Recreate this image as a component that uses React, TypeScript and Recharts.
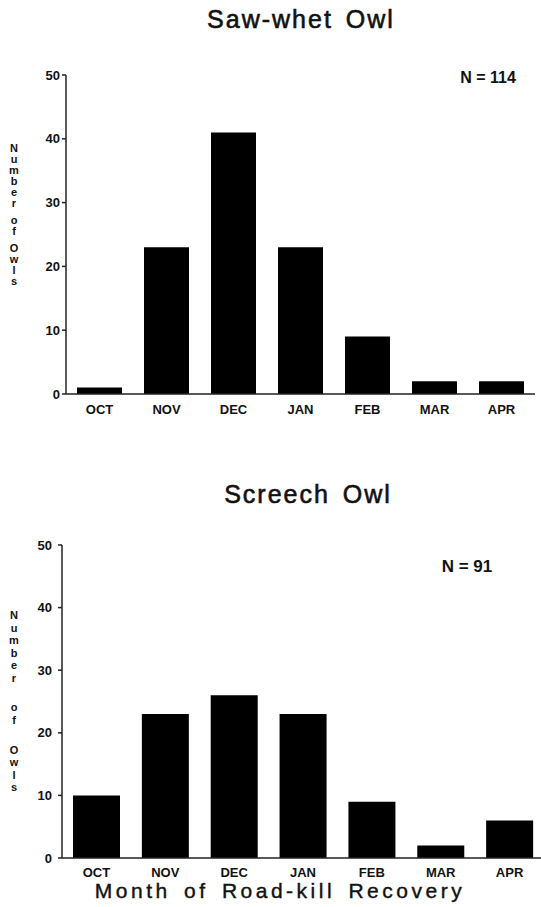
import { BarChart, Bar, XAxis, YAxis } from "recharts";

// Owl road-kill recoveries by month (two panels, same axes)
const meses = ["OCT", "NOV", "DEC", "JAN", "FEB", "MAR", "APR"];
const sawWhet = [1, 23, 41, 23, 9, 2, 2];
const screech = [10, 23, 26, 23, 9, 2, 6];
const yTicks = [0, 10, 20, 30, 40, 50];
const yLabelWords = ["Number", "of", "Owls"];

const FONT = "'Liberation Sans', Arial, Helvetica, sans-serif";
const INK = "#111";

const dadosSaw = meses.map((m, i) => ({ mes: m, n: sawWhet[i] }));
const dadosScreech = meses.map((m, i) => ({ mes: m, n: screech[i] }));

// letras empilhadas do rótulo vertical "Number of Owls"
function RotuloVertical({ x, y, passo, gap, fs }: { x: number; y: number; passo: number; gap: number; fs: number }) {
  const letras: { c: string; y: number }[] = [];
  let cur = y;
  yLabelWords.forEach((w, wi) => {
    if (wi > 0) cur += gap - passo;
    w.split("").forEach((c) => {
      letras.push({ c, y: cur });
      cur += passo;
    });
  });
  return (
    <>
      {letras.map((l, i) => (
        <text key={i} x={x} y={l.y} textAnchor="middle" dominantBaseline="central"
          fontSize={fs} fontWeight={700} fill={INK} fontFamily={FONT}>{l.c}</text>
      ))}
    </>
  );
}

function Painel({ dados, width, height, margin, xHeight, barSize, xTickMargin, yTickMargin }: {
  dados: { mes: string; n: number }[]; width: number; height: number;
  margin: { top: number; right: number; left: number; bottom: number };
  xHeight: number; barSize: number; xTickMargin: number; yTickMargin: number;
}) {
  return (
    <BarChart width={width} height={height} data={dados} margin={margin}>
      <XAxis dataKey="mes" height={xHeight}
        tick={{ fontSize: 13, fontWeight: 700, fill: INK, fontFamily: FONT }}
        tickLine={false} tickSize={0} tickMargin={xTickMargin}
        axisLine={{ stroke: "#222", strokeWidth: 1.5 }} interval={0} />
      <YAxis domain={[0, 50]} ticks={yTicks} width={50} interval={0}
        tick={{ fontSize: 13, fontWeight: 700, fill: INK, fontFamily: FONT }}
        tickSize={4} tickMargin={yTickMargin}
        tickLine={{ stroke: "#222", strokeWidth: 1.5 }}
        axisLine={{ stroke: "#222", strokeWidth: 1.5 }} />
      <Bar dataKey="n" fill="#000" barSize={barSize} isAnimationActive={false} />
    </BarChart>
  );
}

export default function App() {
  return (
    <div style={{ position: "absolute", left: 0, top: 0, width: 541, height: 907, overflow: "hidden", background: "#fff", fontFamily: FONT }}>
      <div style={{ position: "absolute", left: 0, top: 0 }}>
        <Painel dados={dadosSaw} width={541} height={430} xHeight={36}
          margin={{ top: 75, right: 6, left: 16, bottom: 0 }}
          barSize={45} xTickMargin={11} yTickMargin={2} />
      </div>
      <div style={{ position: "absolute", left: 0, top: 430 }}>
        <Painel dados={dadosScreech} width={548} height={477} xHeight={49}
          margin={{ top: 115, right: 4, left: 12, bottom: 0 }}
          barSize={47} xTickMargin={10} yTickMargin={6} />
      </div>
      <svg width={541} height={907} style={{ position: "absolute", left: 0, top: 0, pointerEvents: "none" }}>
        <text x={301} y={28} textAnchor="middle" fontSize={25} letterSpacing={2} wordSpacing={4} fill={INK} stroke={INK} strokeWidth={0.6} fontFamily={FONT}>Saw-whet Owl</text>
        <text x={308} y={503} textAnchor="middle" fontSize={25} letterSpacing={2} wordSpacing={4} fill={INK} stroke={INK} strokeWidth={0.6} fontFamily={FONT}>Screech Owl</text>
        <text x={488} y={83} textAnchor="middle" fontSize={16} fontWeight={700} fill={INK} fontFamily={FONT}>N = 114</text>
        <text x={467} y={572} textAnchor="middle" fontSize={17} fontWeight={700} fill={INK} fontFamily={FONT}>N = 91</text>
        <text x={280} y={898} textAnchor="middle" fontSize={21} letterSpacing={3.5} wordSpacing={4} fill={INK} stroke={INK} strokeWidth={0.4} fontFamily={FONT}>Month of Road-kill Recovery</text>
        <RotuloVertical x={14} y={148} passo={11} gap={17} fs={11} />
        <RotuloVertical x={14} y={615} passo={12.5} gap={29.75} fs={11} />
      </svg>
    </div>
  );
}
